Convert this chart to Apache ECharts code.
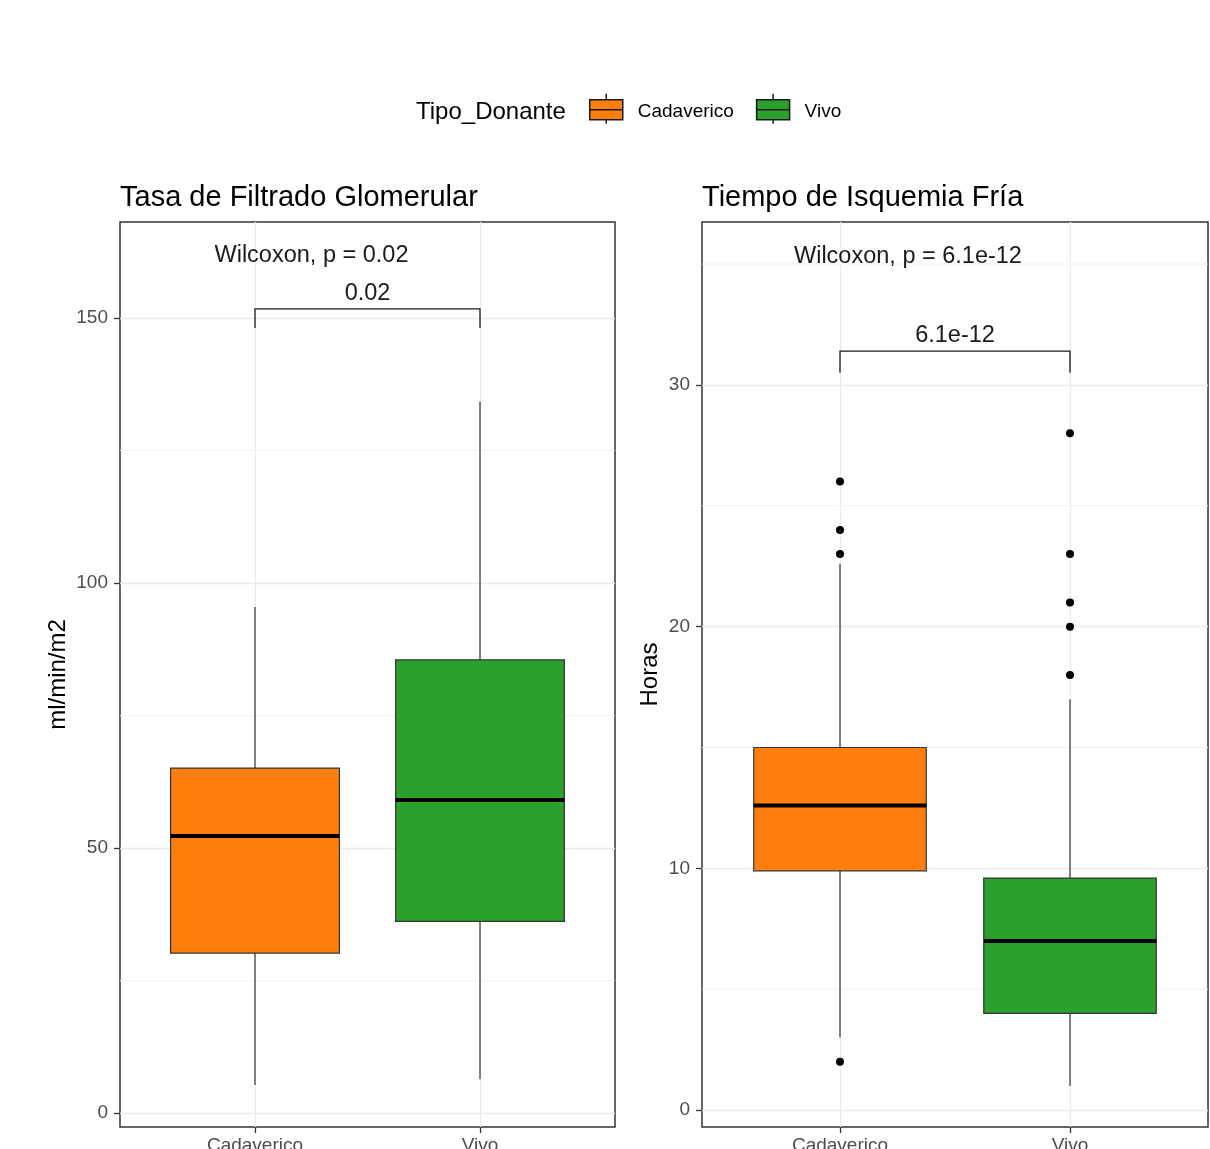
<!DOCTYPE html>
<html>
<head>
<meta charset="utf-8">
<script src="https://cdn.jsdelivr.net/npm/echarts@6/dist/echarts.min.js"></script>
<style>
  html, body { margin: 0; padding: 0; background: #fff; }
  #chart { width: 1210px; height: 1149px; }
</style>
</head>
<body>
<div id="chart"></div>
<script>
const groups = ['Cadaverico', 'Vivo']
const groupColors = ['#FF7F0E', '#2CA02C']

// box values per group: [low whisker, Q1, median, Q3, high whisker]
const tfgBoxes = [
  [5.3, 30.2, 52.3, 65.1, 95.5],
  [6.4, 36.2, 59.1, 85.5, 134.2]
]
const tfgOutliers = [[], []]
const isqBoxes = [
  [3.0, 9.9, 12.6, 15.0, 22.6],
  [1.0, 4.0, 7.0, 9.6, 17.0]
]
const isqOutliers = [[26, 24, 23, 2], [28, 23, 21, 20, 18]]

const tfgTicks = [0, 50, 100, 150]
const tfgMinor = [25, 75, 125]
const isqTicks = [0, 10, 20, 30]
const isqMinor = [5, 15, 25, 35]

// stat text position [x, y]; bracket [x1, x2, drop, top, labelY]
const tfgStat = [0.82, 161.7]
const tfgBracket = [1, 2, 148.1, 151.7, 154.7]
const isqStat = [0.8, 35.3]
const isqBracket = [1, 2, 30.5, 31.4, 32.05]

const font = "'Liberation Sans', Arial, sans-serif"

const panels = [
  {
    title: 'Tasa de Filtrado Glomerular', yName: 'ml/min/m2', nameGap: 50,
    yMin: -2.6, yMax: 168.1, ticks: tfgTicks, minor: tfgMinor,
    boxes: tfgBoxes, outliers: tfgOutliers,
    stat: tfgStat, statText: 'Wilcoxon, p = 0.02', bracket: tfgBracket, bracketText: '0.02',
    grid: { left: 120, top: 222, width: 495, height: 905 }
  },
  {
    title: 'Tiempo de Isquemia Fría', yName: 'Horas', nameGap: 40,
    yMin: -0.7, yMax: 36.74, ticks: isqTicks, minor: isqMinor,
    boxes: isqBoxes, outliers: isqOutliers,
    stat: isqStat, statText: 'Wilcoxon, p = 6.1e-12', bracket: isqBracket, bracketText: '6.1e-12',
    grid: { left: 702, top: 222, width: 506, height: 905 }
  }
]

function renderBox(params, api) {
  const x = api.value(0)
  const w = api.size([0.75, 0])[0]
  const p = [1, 2, 3, 4, 5].map(i => api.coord([x, api.value(i)]))
  const cx = p[0][0]
  const line = { stroke: '#333333', lineWidth: 1.2 }
  return {
    type: 'group',
    children: [
      { type: 'line', shape: { x1: cx, y1: p[0][1], x2: cx, y2: p[1][1] }, style: line },
      { type: 'line', shape: { x1: cx, y1: p[3][1], x2: cx, y2: p[4][1] }, style: line },
      {
        type: 'rect',
        shape: { x: cx - w / 2, y: p[3][1], width: w, height: p[1][1] - p[3][1] },
        style: { fill: api.visual('color'), stroke: '#333333', lineWidth: 1.2 }
      },
      {
        type: 'line',
        shape: { x1: cx - w / 2, y1: p[2][1], x2: cx + w / 2, y2: p[2][1] },
        style: { stroke: '#000', lineWidth: 4 }
      }
    ]
  }
}

function renderMinor(params, api) {
  const y = api.coord([1, api.value(1)])[1]
  const cs = params.coordSys
  return {
    type: 'line',
    shape: { x1: cs.x, y1: y, x2: cs.x + cs.width, y2: y },
    style: { stroke: '#F2F2F2', lineWidth: 1 }
  }
}

function makeAnnot(panel) {
  return function (params, api) {
    const b = panel.bracket
    const s = api.coord([api.value(0), api.value(1)])
    const a1 = api.coord([b[0], b[2]])
    const a2 = api.coord([b[0], b[3]])
    const a3 = api.coord([b[1], b[3]])
    const a4 = api.coord([b[1], b[2]])
    const lab = api.coord([(b[0] + b[1]) / 2, b[4]])
    return {
      type: 'group',
      children: [
        {
          type: 'text',
          style: { x: s[0], y: s[1], text: panel.statText, font: '23.5px ' + font, fill: '#1a1a1a', align: 'left', verticalAlign: 'middle' }
        },
        {
          type: 'polyline',
          shape: { points: [a1, a2, a3, a4] },
          style: { stroke: '#1a1a1a', lineWidth: 1.3, fill: null }
        },
        {
          type: 'text',
          style: { x: lab[0], y: lab[1], text: panel.bracketText, font: '23.5px ' + font, fill: '#1a1a1a', align: 'center', verticalAlign: 'middle' }
        }
      ]
    }
  }
}

const series = []
panels.forEach((panel, i) => {
  series.push({
    type: 'custom', name: 'minor' + i, xAxisIndex: i, yAxisIndex: i,
    renderItem: renderMinor, data: panel.minor.map(v => [1, v]), z: 1, silent: true
  })
  groups.forEach((g, k) => {
    series.push({
      type: 'custom', name: g, xAxisIndex: i, yAxisIndex: i,
      renderItem: renderBox,
      itemStyle: { color: groupColors[k] },
      encode: { x: 0, y: [1, 2, 3, 4, 5] },
      data: [[k + 1].concat(panel.boxes[k])],
      z: 2
    })
    series.push({
      type: 'scatter', name: 'out' + i + k, xAxisIndex: i, yAxisIndex: i,
      data: panel.outliers[k].map(v => [k + 1, v]),
      symbol: 'circle', symbolSize: 8,
      itemStyle: { color: '#000', opacity: 1 }, z: 3
    })
  })
  series.push({
    type: 'custom', name: 'annot' + i, xAxisIndex: i, yAxisIndex: i,
    renderItem: makeAnnot(panel), data: [panel.stat], z: 4, silent: true
  })
})

const chart = echarts.init(document.getElementById('chart'))
chart.setOption({
  animation: false,
  backgroundColor: '#fff',
  textStyle: { fontFamily: font },
  title: panels.map(p => ({
    text: p.title, left: p.grid.left, top: 183, padding: 0,
    textStyle: { fontSize: 29, fontWeight: 'normal', color: '#000', fontFamily: font }
  })),
  graphic: [{
    type: 'text', left: 416, top: 100,
    style: { text: 'Tipo_Donante', font: '24px ' + font, fill: '#000' }
  }],
  legend: {
    data: groups, left: 584, top: 88, itemWidth: 33, itemHeight: 30, itemGap: 22,
    selectedMode: false,
    icon: 'path://M0,6 L33,6 L33,26 L0,26 Z M16.5,0 L16.5,6 M16.5,26 L16.5,30 M0,16 L33,16',
    itemStyle: { borderColor: '#1a1a1a', borderWidth: 1.5 },
    formatter: name => '{t|' + name + '}',
    textStyle: {
      fontSize: 19, color: '#000', fontFamily: font,
      rich: { t: { fontSize: 19, color: '#000', fontFamily: font, padding: [7, 0, 0, 10] } }
    }
  },
  grid: panels.map(p => Object.assign({
    show: true, borderColor: '#333333', borderWidth: 1.5, backgroundColor: '#fff',
    outerBoundsMode: 'none', containLabel: false
  }, p.grid)),
  xAxis: panels.map((p, i) => ({
    type: 'value', gridIndex: i, min: 0.4, max: 2.6,
    axisLine: { show: false, onZero: false },
    axisTick: { show: true, customValues: [1, 2], length: 6, lineStyle: { color: '#333333', width: 1.3 } },
    axisLabel: {
      customValues: [1, 2], formatter: v => groups[Math.round(v) - 1] || '',
      fontSize: 19, color: '#4D4D4D', margin: 9, fontFamily: font
    },
    splitLine: { show: true, lineStyle: { color: '#EBEBEB', width: 1.3 } }
  })),
  yAxis: panels.map((p, i) => ({
    type: 'value', gridIndex: i, min: p.yMin, max: p.yMax,
    name: p.yName, nameLocation: 'middle', nameGap: p.nameGap, nameRotate: 90,
    nameTextStyle: { fontSize: 24, color: '#000', fontFamily: font },
    axisLine: { show: false, onZero: false },
    axisTick: { show: true, customValues: p.ticks, length: 6, lineStyle: { color: '#333333', width: 1.3 } },
    axisLabel: { customValues: p.ticks, fontSize: 19, color: '#4D4D4D', margin: 12, fontFamily: font },
    splitLine: { show: true, lineStyle: { color: '#EBEBEB', width: 1.3 } }
  })),
  series: series
})
</script>
</body>
</html>
